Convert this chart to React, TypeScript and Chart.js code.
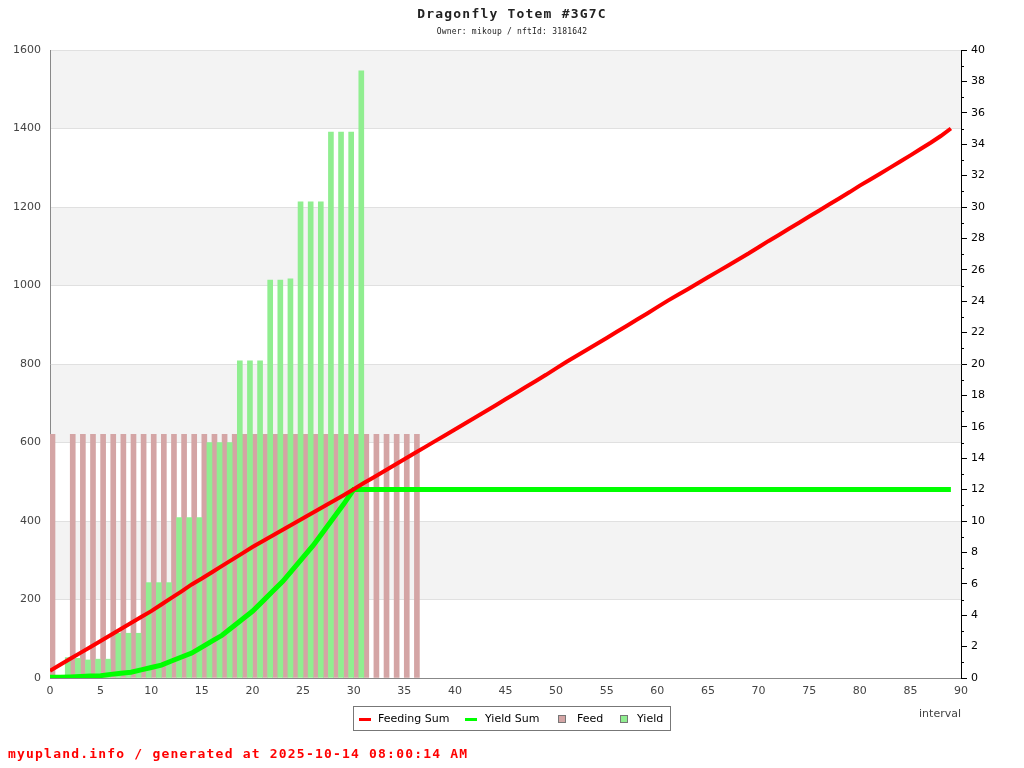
import React, { useEffect, useRef } from "react";
import { Chart, registerables } from "chart.js";

Chart.register(...registerables);

const titleText = "Dragonfly Totem #3G7C";
const subtitleText = "Owner: mikoup / nftId: 3181642";
const footerText = "myupland.info / generated at 2025-10-14 08:00:14 AM";
const xAxisTitle = "interval";

const legendLabels = ["Feeding Sum", "Yield Sum", "Feed", "Yield"];

// Left axis (bars) ticks
const leftTicks = [0, 200, 400, 600, 800, 1000, 1200, 1400, 1600];

// Feed bars
const feedIntervals = [0, 2, 3, 4, 5, 6, 7, 8, 9, 10, 11, 12, 13, 14, 15, 16, 17, 18, 19, 20, 21, 22, 23, 24, 25, 26, 27, 28, 29, 30, 31, 32, 33, 34, 35, 36];
const feedValues = [621, 621, 621, 621, 621, 621, 621, 621, 621, 621, 621, 621, 621, 621, 621, 621, 621, 621, 621, 621, 621, 621, 621, 621, 621, 621, 621, 621, 621, 621, 621, 621, 621, 621, 621, 621];

// Yield bars
const yieldIntervals = [2, 3, 4, 5, 6, 7, 8, 9, 10, 11, 12, 13, 14, 15, 16, 17, 18, 19, 20, 21, 22, 23, 24, 25, 26, 27, 28, 29, 30, 31];
const yieldValues = [52, 50, 46, 48, 48, 114, 114, 114, 243, 243, 243, 409, 409, 409, 600, 600, 600, 808, 808, 808, 1014, 1014, 1017, 1213, 1213, 1213, 1391, 1391, 1391, 1547];

// Lines (right axis), one value per interval 0..89
const feedingSum = [
  0.46, 0.84, 1.22, 1.6, 1.98, 2.36, 2.74, 3.12, 3.5, 3.88,
  4.26, 4.68, 5.1, 5.52, 5.96, 6.34, 6.74, 7.14, 7.54, 7.94,
  8.34, 8.71, 9.07, 9.44, 9.81, 10.17, 10.54, 10.91, 11.27, 11.64,
  12.02, 12.42, 12.79, 13.17, 13.55, 13.93, 14.31, 14.69, 15.07, 15.45,
  15.83, 16.21, 16.59, 16.97, 17.36, 17.75, 18.14, 18.53, 18.92, 19.31,
  19.72, 20.13, 20.51, 20.89, 21.27, 21.66, 22.05, 22.44, 22.83, 23.22,
  23.62, 24.02, 24.39, 24.76, 25.14, 25.52, 25.9, 26.28, 26.66, 27.04,
  27.44, 27.84, 28.22, 28.61, 29.0, 29.39, 29.78, 30.17, 30.56, 30.95,
  31.36, 31.74, 32.12, 32.51, 32.9, 33.29, 33.69, 34.09, 34.52, 35.0,
];
const yieldSum = [
  0.05, 0.05, 0.07, 0.09, 0.12, 0.15, 0.23, 0.3, 0.37, 0.52,
  0.67, 0.82, 1.08, 1.34, 1.59, 1.97, 2.35, 2.72, 3.23, 3.74,
  4.25, 4.88, 5.52, 6.16, 6.92, 7.68, 8.44, 9.32, 10.19, 11.06,
  12, 12, 12, 12, 12, 12, 12, 12, 12, 12,
  12, 12, 12, 12, 12, 12, 12, 12, 12, 12,
  12, 12, 12, 12, 12, 12, 12, 12, 12, 12,
  12, 12, 12, 12, 12, 12, 12, 12, 12, 12,
  12, 12, 12, 12, 12, 12, 12, 12, 12, 12,
  12, 12, 12, 12, 12, 12, 12, 12, 12, 12,
];

const RED = "#ff0000";
const GREEN = "#00ff00";
const FEED_COLOR = "#d4a5a5";
const YIELD_COLOR = "#90ee90";
const BAND = "#f3f3f3";

const bandsPlugin = {
  id: "bands",
  beforeDraw(chart: any) {
    const { ctx, chartArea } = chart;
    ctx.save();
    ctx.fillStyle = "#ffffff";
    ctx.fillRect(0, 0, chart.width, chart.height);
    const ys = chart.scales.y;
    for (let i = 0; i < leftTicks.length - 1; i++) {
      if (i % 2 === 1) {
        const y0 = ys.getPixelForValue(leftTicks[i]);
        const y1 = ys.getPixelForValue(leftTicks[i + 1]);
        ctx.fillStyle = BAND;
        ctx.fillRect(chartArea.left, y1, chartArea.right - chartArea.left, y0 - y1);
      }
    }
    ctx.restore();
  },
};

const decorPlugin = {
  id: "decor",
  afterDraw(chart: any) {
    const { ctx, chartArea } = chart;
    ctx.save();
    // minor ticks on right axis
    const y1 = chart.scales.y1;
    ctx.strokeStyle = "#000";
    ctx.lineWidth = 1;
    for (let v = 1; v < 40; v += 2) {
      const py = Math.round(y1.getPixelForValue(v)) + 0.5;
      ctx.beginPath();
      ctx.moveTo(chartArea.right, py);
      ctx.lineTo(chartArea.right + 3, py);
      ctx.stroke();
    }

    // title
    ctx.fillStyle = "#222";
    ctx.textAlign = "center";
    ctx.textBaseline = "alphabetic";
    (ctx as any).letterSpacing = "1.2px";
    ctx.font = 'bold 13px "DejaVu Sans Mono"';
    ctx.fillText(titleText, 512, 18);
    (ctx as any).letterSpacing = "0.2px";
    ctx.font = '8px "DejaVu Sans Mono"';
    ctx.fillText(subtitleText, 512, 34);

    // footer
    (ctx as any).letterSpacing = "1.2px";
    ctx.textAlign = "left";
    ctx.fillStyle = RED;
    ctx.font = 'bold 13px "DejaVu Sans Mono"';
    ctx.fillText(footerText, 8, 758);
    (ctx as any).letterSpacing = "0px";

    // legend
    ctx.strokeStyle = "#777";
    ctx.lineWidth = 1;
    ctx.strokeRect(353.5, 706.5, 317, 24);
    ctx.fillStyle = RED;
    ctx.fillRect(359, 718, 12, 3);
    ctx.fillStyle = GREEN;
    ctx.fillRect(465, 718, 12, 3);
    ctx.fillStyle = FEED_COLOR;
    ctx.fillRect(558, 715, 8, 8);
    ctx.strokeStyle = "#777";
    ctx.strokeRect(558.5, 715.5, 7, 7);
    ctx.fillStyle = YIELD_COLOR;
    ctx.fillRect(620, 715, 8, 8);
    ctx.strokeRect(620.5, 715.5, 7, 7);
    ctx.fillStyle = "#000";
    ctx.font = '11px "DejaVu Sans"';
    ctx.textBaseline = "middle";
    ctx.fillText(legendLabels[0], 378, 719);
    ctx.fillText(legendLabels[1], 485, 719);
    ctx.fillText(legendLabels[2], 577, 719);
    ctx.fillText(legendLabels[3], 637, 719);
    ctx.restore();
  },
};

export default function App() {
  const ref = useRef<HTMLCanvasElement | null>(null);
  useEffect(() => {
    if (!ref.current) return;
    const tickFont = { family: "DejaVu Sans", size: 11 };
    const chart = new Chart(ref.current, {
      type: "bar",
      data: {
        datasets: [
          {
            type: "line",
            label: legendLabels[0],
            data: feedingSum.map((v, i) => ({ x: i, y: v })),
            xAxisID: "x",
            yAxisID: "y1",
            borderColor: RED,
            backgroundColor: RED,
            borderWidth: 4,
            pointRadius: 0,
            tension: 0,
            order: 0,
          },
          {
            type: "line",
            label: legendLabels[1],
            data: yieldSum.map((v, i) => ({ x: i, y: v })),
            xAxisID: "x",
            yAxisID: "y1",
            borderColor: GREEN,
            backgroundColor: GREEN,
            borderWidth: 5,
            pointRadius: 0,
            tension: 0,
            order: 0,
          },
          {
            type: "bar",
            label: legendLabels[2],
            data: feedIntervals.map((x, i) => ({ x, y: feedValues[i] })),
            xAxisID: "x",
            yAxisID: "y",
            backgroundColor: FEED_COLOR,
            barThickness: 5,
            order: 2,
          },
          {
            type: "bar",
            label: legendLabels[3],
            data: yieldIntervals.map((x, i) => ({ x, y: yieldValues[i] })),
            xAxisID: "x",
            yAxisID: "y",
            backgroundColor: YIELD_COLOR,
            barThickness: 5,
            order: 1,
          },
        ] as any,
      },
      options: {
        responsive: false,
        maintainAspectRatio: false,
        animation: false,
        devicePixelRatio: 1,
        layout: { padding: { top: 50, left: 0, right: 0, bottom: 0 } },
        plugins: {
          legend: { display: false },
          tooltip: { enabled: false },
          title: { display: false },
        },
        scales: {
          x: {
            type: "linear",
            min: 0,
            max: 90,
            offset: false,
            grid: { display: false, drawTicks: false },
            border: { color: "#888" },
            ticks: {
              stepSize: 5,
              color: "#444",
              font: tickFont,
              padding: 7,
              maxRotation: 0,
              callback: (v: any) => String(v),
            },
            title: {
              display: true,
              text: xAxisTitle,
              align: "end",
              color: "#444",
              font: tickFont,
              padding: { top: 0, bottom: 47 },
            },
            afterFit: (s: any) => {
              s.height = 90;
            },
          },
          y: {
            type: "linear",
            position: "left",
            min: 0,
            max: 1600,
            grid: { color: "#e0e0e0", drawTicks: false },
            border: { color: "#888" },
            ticks: {
              stepSize: 200,
              color: "#444",
              font: tickFont,
              padding: 9,
              callback: (v: any) => String(v),
            },
            afterFit: (s: any) => {
              s.width = 50;
            },
          },
          y1: {
            type: "linear",
            position: "right",
            min: 0,
            max: 40,
            grid: { drawOnChartArea: false, color: "#000", tickLength: 6 },
            border: { color: "#000" },
            ticks: {
              stepSize: 2,
              color: "#000",
              font: tickFont,
              padding: 4,
              callback: (v: any) => String(v),
            },
            afterFit: (s: any) => {
              s.width = 63;
            },
          },
        },
      } as any,
      plugins: [bandsPlugin, decorPlugin],
    });
    return () => chart.destroy();
  }, []);
  return (
    <div style={{ position: "fixed", left: 0, top: 0, width: 1024, height: 768, background: "#fff" }}>
      <canvas ref={ref} width={1024} height={768} />
    </div>
  );
}
